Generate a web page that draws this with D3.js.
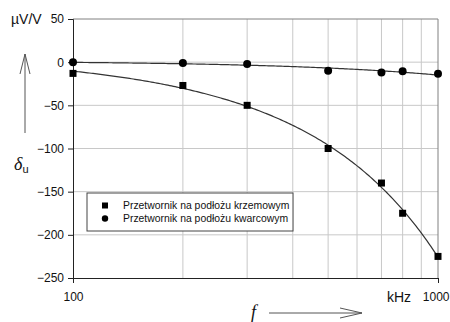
<!DOCTYPE html>
<html>
<head>
<meta charset="utf-8">
<title>Przetwornik</title>
<script src="https://cdn.jsdelivr.net/npm/d3@7"></script>
<style>
  body { margin: 0; background: #fff; }
  svg { display: block; font-family: "Liberation Sans", Arial, sans-serif; }
</style>
</head>
<body>
<div id="chart"></div>
<script>
// data (f in kHz, delta in uV/V)
const freqs = [100, 200, 300, 500, 700, 800, 1000];
const krzemowy = [-13, -27, -50, -100, -140, -175, -225];
const kwarcowy = [0, -1, -2, -10, -12, -10.5, -13.5];
const yTicks = [50, 0, -50, -100, -150, -200, -250];
const xGrid = [200, 300, 400, 500, 600, 700, 800, 900];
const seriesNames = ["Przetwornik na podłożu krzemowym", "Przetwornik na podłożu kwarcowym"];

const W = 450, H = 322;
const m = { left: 73, right: 12, top: 19, bottom: 44 };

const svg = d3.select("#chart").append("svg")
  .attr("width", W).attr("height", H);

const x = d3.scaleLog().domain([100, 1000]).range([m.left, W - m.right]);
const y = d3.scaleLinear().domain([-250, 50]).range([H - m.bottom, m.top]);

// grid
svg.append("g").selectAll("line").data(xGrid).join("line")
  .attr("x1", d => x(d)).attr("x2", d => x(d))
  .attr("y1", y(50)).attr("y2", y(-250))
  .attr("stroke", "#c8c8c8").attr("stroke-width", 1);
svg.append("g").selectAll("line").data(yTicks.filter(d => d > -250 && d < 50)).join("line")
  .attr("x1", x(100)).attr("x2", x(1000))
  .attr("y1", d => y(d)).attr("y2", d => y(d))
  .attr("stroke", "#c8c8c8").attr("stroke-width", 1);

// frame top/right
svg.append("path")
  .attr("d", `M${x(100)},${y(50)}H${x(1000)}V${y(-250)}`)
  .attr("fill", "none").attr("stroke", "#808080");

// axes
const yAxis = svg.append("g").attr("transform", `translate(${m.left},0)`)
  .call(d3.axisLeft(y).tickValues(yTicks).tickSize(5).tickPadding(4));
const xAxis = svg.append("g").attr("transform", `translate(0,${H - m.bottom})`)
  .call(d3.axisBottom(x).tickValues([100, 1000]).tickFormat(d3.format("d")).tickSize(5).tickPadding(9));
[yAxis, xAxis].forEach(a => {
  a.select(".domain").attr("stroke", "#222");
  a.selectAll(".tick line").attr("stroke", "#222");
  a.selectAll("text").attr("font-size", 12).attr("fill", "#111")
    .attr("font-family", "Liberation Sans, Arial, sans-serif");
});
// last label sits against the right edge
xAxis.selectAll(".tick text").filter(d => d === 1000)
  .attr("text-anchor", "end").attr("x", W - 1 - x(1000));

// trend lines: least squares polynomial in f
function polyfit(xs, ys, deg) {
  const n = deg + 1;
  const A = Array.from({ length: n }, () => new Array(n + 1).fill(0));
  xs.forEach((xv, i) => {
    for (let r = 0; r < n; r++) {
      for (let c = 0; c < n; c++) A[r][c] += Math.pow(xv, r + c);
      A[r][n] += ys[i] * Math.pow(xv, r);
    }
  });
  for (let i = 0; i < n; i++) {
    for (let k = i + 1; k < n; k++) {
      const f = A[k][i] / A[i][i];
      for (let j = i; j <= n; j++) A[k][j] -= f * A[i][j];
    }
  }
  const coef = new Array(n).fill(0);
  for (let i = n - 1; i >= 0; i--) {
    let s = A[i][n];
    for (let j = i + 1; j < n; j++) s -= A[i][j] * coef[j];
    coef[i] = s / A[i][i];
  }
  return v => coef.reduce((acc, c, i) => acc + c * Math.pow(v, i), 0);
}
const fs = freqs.map(f => f / 100);
const fitK = polyfit(fs, krzemowy, 2);
const fitQ = polyfit(fs, kwarcowy, 1);
const samples = d3.range(0, 201).map(i => 100 * Math.pow(10, i / 200));
const line = fn => d3.line().x(f => x(f)).y(f => y(fn(f / 100)))(samples);
svg.append("path").attr("d", line(fitK)).attr("fill", "none").attr("stroke", "#333").attr("stroke-width", 1.2);
svg.append("path").attr("d", line(fitQ)).attr("fill", "none").attr("stroke", "#333").attr("stroke-width", 1.2);

// markers
svg.append("g").selectAll("rect").data(freqs).join("rect")
  .attr("x", (d, i) => x(d) - 3.5).attr("y", (d, i) => y(krzemowy[i]) - 3.5)
  .attr("width", 7).attr("height", 7).attr("fill", "#000");
svg.append("g").selectAll("circle").data(freqs).join("circle")
  .attr("cx", d => x(d)).attr("cy", (d, i) => y(kwarcowy[i]))
  .attr("r", 4).attr("fill", "#000");

// legend
const lg = svg.append("g").attr("transform", "translate(87,193)");
lg.append("rect").attr("width", 206).attr("height", 38)
  .attr("fill", "#fff").attr("stroke", "#444");
lg.append("rect").attr("x", 15).attr("y", 9.5).attr("width", 6).attr("height", 6).attr("fill", "#000");
lg.append("circle").attr("cx", 18).attr("cy", 25.5).attr("r", 3.2).attr("fill", "#000");
lg.selectAll("text").data(seriesNames).join("text")
  .attr("x", 36).attr("y", (d, i) => 16 + i * 13)
  .attr("font-size", 10.4).attr("fill", "#111").text(d => d);

// unit labels
svg.append("text").attr("x", 11).attr("y", 24).attr("font-size", 14).attr("fill", "#111").text("µV/V");
svg.append("text").attr("x", 387).attr("y", 302).attr("font-size", 14).attr("fill", "#111").text("kHz");

// quantity symbols with arrows
svg.append("text").attr("x", 14).attr("y", 170)
  .attr("font-family", "Liberation Serif, Times New Roman, serif").attr("font-style", "italic")
  .attr("font-size", 18).attr("fill", "#111").text("δ")
  .append("tspan").attr("font-family", "Liberation Sans, Arial, sans-serif").attr("font-style", "normal")
  .attr("font-size", 11).attr("dy", 3).text("u");
svg.append("text").attr("x", 251).attr("y", 318)
  .attr("font-family", "Liberation Serif, Times New Roman, serif").attr("font-style", "italic")
  .attr("font-size", 18).attr("fill", "#111").text("f");

const arrow = svg.append("g").attr("fill", "none").attr("stroke", "#555").attr("stroke-width", 1);
arrow.append("path").attr("d", "M25,133V54M20,74L25,54L30,74");
arrow.append("path").attr("d", "M269,313H362M340,308L362,313L340,318");
</script>
</body>
</html>
